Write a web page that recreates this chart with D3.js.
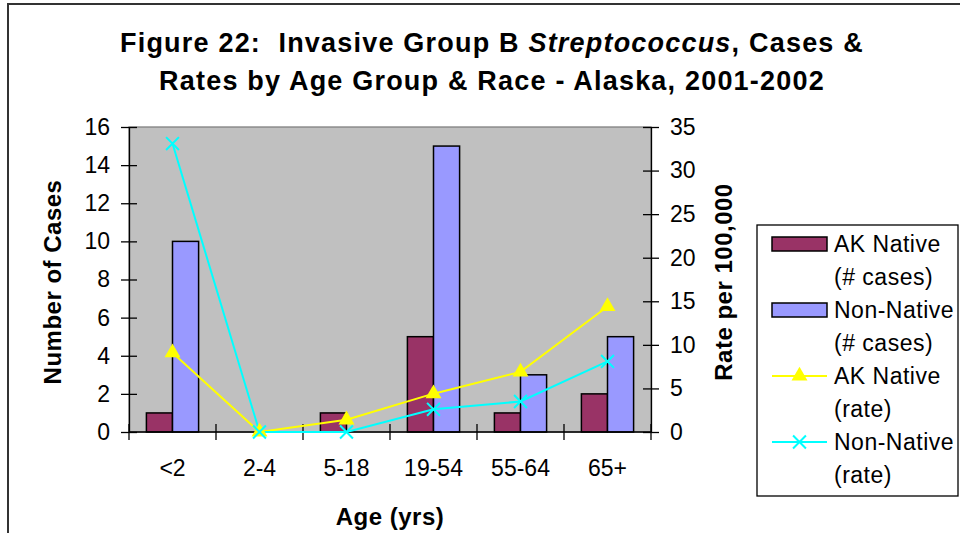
<!DOCTYPE html>
<meta charset="utf-8">
<style>
	body { margin: 0; background: #fff; }
	text { font-family: Arial, "Liberation Sans", sans-serif; fill: #000; }
	.tick text { font-size: 23px; }
	.axis path, .axis line { stroke: #000; stroke-width: 1.3; }
</style>
<body>
<script src="https://d3js.org/d3.v7.min.js"></script>
<script>
var ageGroups = ["<2", "2-4", "5-18", "19-54", "55-64", "65+"];
var akNativeCases = [1, 0, 1, 5, 1, 2];
var nonNativeCases = [10, 0, 0, 15, 3, 5];
var akNativeRate = [9.1, 0, 1.4, 4.4, 6.9, 14.4];
var nonNativeRate = [33.1, 0, 0, 2.6, 3.5, 8.1];
var caseTicks = [0, 2, 4, 6, 8, 10, 12, 14, 16];
var rateTicks = [0, 5, 10, 15, 20, 25, 30, 35];

// plot area
var plotLeft = 129, plotRight = 651, plotTop = 127, plotBottom = 432;

var svg = d3.select("body").append("svg")
    .attr("width", 960)
    .attr("height", 533);

// outer chart frame
svg.append("rect")
    .attr("x", 8).attr("y", 4)
    .attr("width", 1000).attr("height", 600)
    .attr("fill", "#fff")
    .attr("stroke", "#333").attr("stroke-width", 2);

// scales
var x = d3.scaleBand().domain(ageGroups).range([plotLeft, plotRight]);
var xs = d3.scaleBand().domain(["ak", "nn"])
    .range([x.bandwidth() * 0.2, x.bandwidth() * 0.8]);
var y = d3.scaleLinear().domain([0, 16]).range([plotBottom, plotTop]);
var y2 = d3.scaleLinear().domain([0, 35]).range([plotBottom, plotTop]);

// plot background
svg.append("rect")
    .attr("x", plotLeft).attr("y", plotTop)
    .attr("width", plotRight - plotLeft).attr("height", plotBottom - plotTop)
    .attr("fill", "#c0c0c0")
    .attr("stroke", "#808080").attr("stroke-width", 1.3);

// bars
var barData = [
	{key: "ak", values: akNativeCases, color: "#993366"},
	{key: "nn", values: nonNativeCases, color: "#9999ff"}];

barData.forEach(function(s) {
	svg.append("g").selectAll("rect")
		.data(s.values)
		.enter().append("rect")
		.attr("x", function(d, i) { return x(ageGroups[i]) + xs(s.key); })
		.attr("y", function(d) { return y(d); })
		.attr("width", xs.bandwidth())
		.attr("height", function(d) { return plotBottom - y(d); })
		.attr("fill", s.color)
		.attr("stroke", "#000").attr("stroke-width", 1.5);
});

// left axis
var gl = svg.append("g").attr("class", "axis")
    .attr("transform", "translate(" + plotLeft + ",0)")
    .call(d3.axisLeft(y).tickValues(caseTicks).tickSize(8).tickPadding(11).tickSizeOuter(0));
gl.selectAll(".tick line").attr("x1", 8);

// right axis
var gr = svg.append("g").attr("class", "axis")
    .attr("transform", "translate(" + plotRight + ",0)")
    .call(d3.axisRight(y2).tickValues(rateTicks).tickSize(8).tickPadding(11).tickSizeOuter(0));
gr.selectAll(".tick line").attr("x1", -8);

// bottom axis, ticks between the categories
var gb = svg.append("g").attr("class", "axis")
    .attr("transform", "translate(0," + plotBottom + ")")
    .call(d3.axisBottom(x).tickSize(0).tickPadding(28));
gb.select(".domain").attr("d", "M" + plotLeft + ",0H" + plotRight);
gb.selectAll(".sep")
	.data(d3.range(ageGroups.length + 1))
	.enter().append("line")
	.attr("x1", function(i) { return plotLeft + i * x.step(); })
	.attr("x2", function(i) { return plotLeft + i * x.step(); })
	.attr("y1", -8).attr("y2", 8)
	.attr("stroke", "#000").attr("stroke-width", 1.3);

// rate lines
var line = function(scale) {
	return d3.line()
		.x(function(d, i) { return x(ageGroups[i]) + x.bandwidth() / 2; })
		.y(function(d) { return scale(d); });
};

svg.append("path")
    .datum(akNativeRate)
    .attr("d", line(y2))
    .attr("fill", "none").attr("stroke", "#ffff00").attr("stroke-width", 2);

svg.append("path")
    .datum(nonNativeRate)
    .attr("d", line(y2))
    .attr("fill", "none").attr("stroke", "#00ffff").attr("stroke-width", 2);

var tri = d3.symbol().type(d3.symbolTriangle).size(110);
svg.append("g").selectAll("path")
	.data(akNativeRate)
	.enter().append("path")
	.attr("d", tri)
	.attr("transform", function(d, i) {
		return "translate(" + (x(ageGroups[i]) + x.bandwidth() / 2) + "," + y2(d) + ")"; })
	.attr("fill", "#ffff00");

var cross = d3.symbol().type(d3.symbolX).size(110);
svg.append("g").selectAll("path")
	.data(nonNativeRate)
	.enter().append("path")
	.attr("d", cross)
	.attr("transform", function(d, i) {
		return "translate(" + (x(ageGroups[i]) + x.bandwidth() / 2) + "," + y2(d) + ")"; })
	.attr("fill", "none").attr("stroke", "#00ffff").attr("stroke-width", 2);

// titles
var title = svg.append("text")
    .attr("x", 492).attr("y", 52)
    .attr("text-anchor", "middle")
    .style("font-size", "27px").style("font-weight", "bold")
    .style("letter-spacing", "1.2px").style("white-space", "pre");
title.append("tspan").text("Figure 22:  Invasive Group B ");
title.append("tspan").style("font-style", "italic").text("Streptococcus");
title.append("tspan").text(", Cases &");
svg.append("text")
    .attr("x", 492).attr("y", 90)
    .attr("text-anchor", "middle")
    .style("font-size", "27px").style("font-weight", "bold")
    .style("letter-spacing", "1.2px")
    .text("Rates by Age Group & Race - Alaska, 2001-2002");

svg.append("text")
    .attr("x", 390).attr("y", 525)
    .attr("text-anchor", "middle")
    .style("font-size", "24px").style("font-weight", "bold")
    .style("letter-spacing", "0.5px")
    .text("Age (yrs)");

svg.append("text")
    .attr("transform", "translate(61,282) rotate(-90)")
    .attr("text-anchor", "middle")
    .style("font-size", "24px").style("font-weight", "bold")
    .style("letter-spacing", "0.5px")
    .text("Number of Cases");

svg.append("text")
    .attr("transform", "translate(732,282) rotate(-90)")
    .attr("text-anchor", "middle")
    .style("font-size", "24px").style("font-weight", "bold")
    .style("letter-spacing", "0.5px")
    .text("Rate per 100,000");

// legend
var legend = svg.append("g");
legend.append("rect")
    .attr("x", 757).attr("y", 225)
    .attr("width", 201).attr("height", 271)
    .attr("fill", "#fff").attr("stroke", "#000").attr("stroke-width", 1.3);

var legendItems = [
	{lines: ["AK Native", "(# cases)"], type: "bar", color: "#993366"},
	{lines: ["Non-Native", "(# cases)"], type: "bar", color: "#9999ff"},
	{lines: ["AK Native", "(rate)"], type: "tri", color: "#ffff00"},
	{lines: ["Non-Native", "(rate)"], type: "x", color: "#00ffff"}];

legendItems.forEach(function(d, i) {
	var cy = 244 + i * 66;
	if (d.type === "bar") {
		legend.append("rect")
			.attr("x", 772).attr("y", cy - 7)
			.attr("width", 55).attr("height", 14)
			.attr("fill", d.color).attr("stroke", "#000").attr("stroke-width", 1.5);
	} else {
		legend.append("line")
			.attr("x1", 772).attr("x2", 827).attr("y1", cy).attr("y2", cy)
			.attr("stroke", d.color).attr("stroke-width", 2);
		legend.append("path")
			.attr("d", d.type === "tri" ? tri : cross)
			.attr("transform", "translate(799.5," + cy + ")")
			.attr("fill", d.type === "tri" ? d.color : "none")
			.attr("stroke", d.type === "tri" ? "none" : d.color)
			.attr("stroke-width", 2);
	}
	d.lines.forEach(function(t, j) {
		legend.append("text")
			.attr("x", 834).attr("y", cy + 8 + j * 33)
			.style("font-size", "23px").style("letter-spacing", "0.5px")
			.text(t);
	});
});
</script>
</body>
